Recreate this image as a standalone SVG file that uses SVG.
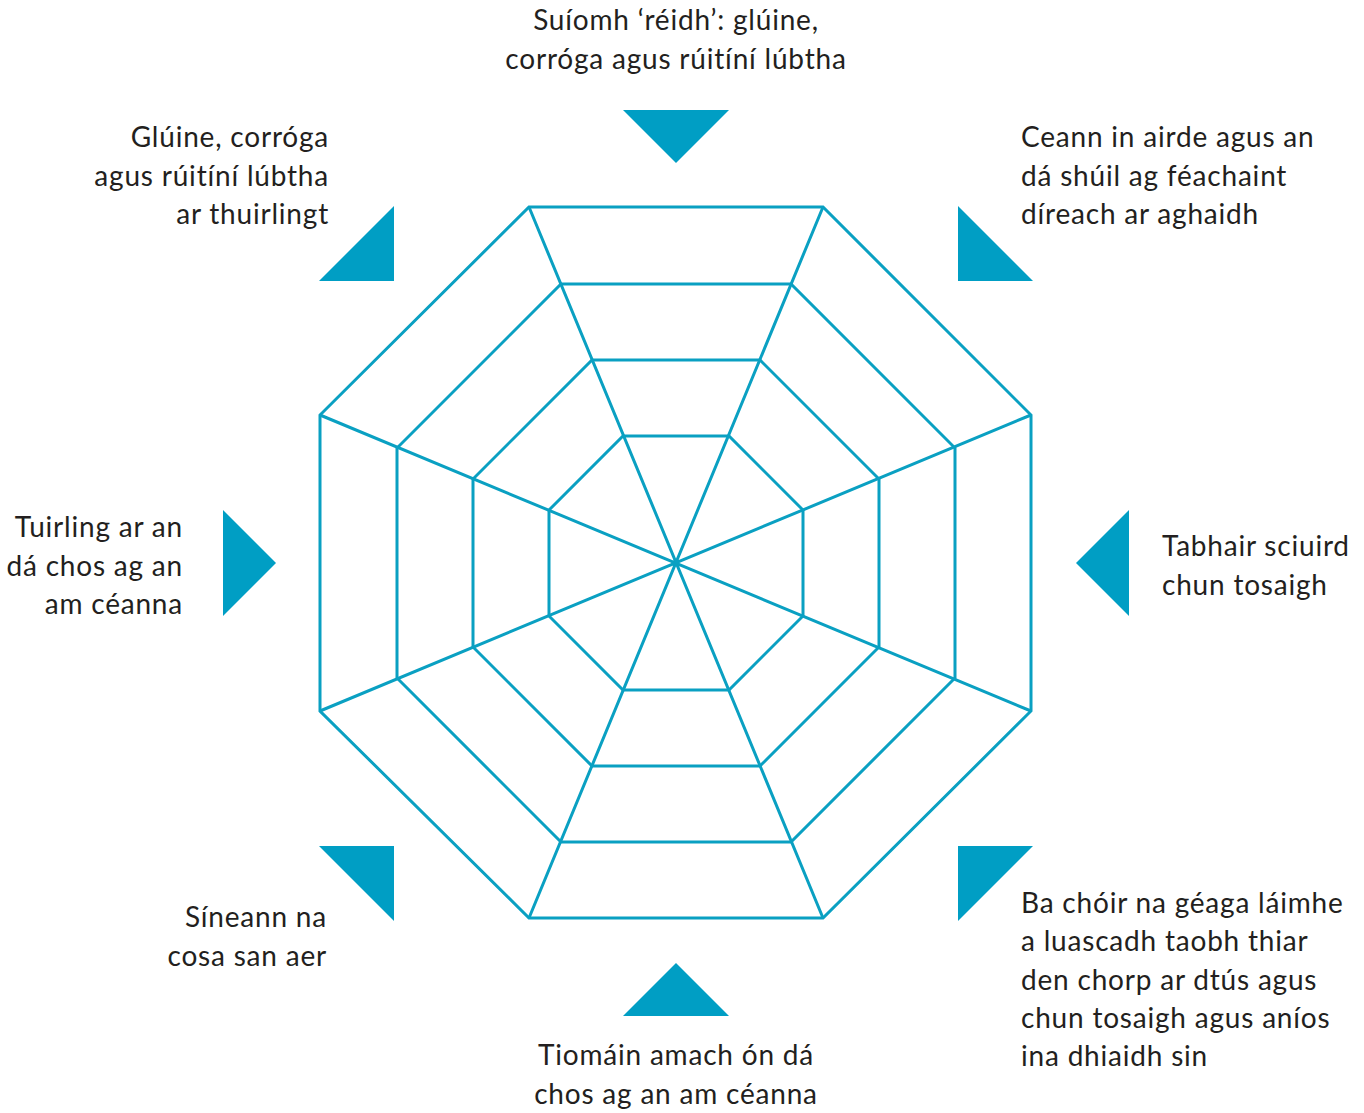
<svg xmlns="http://www.w3.org/2000/svg" width="1364" height="1113" viewBox="0 0 1364 1113">
  <style>
    .web { fill: none; stroke: #0aa0c2; stroke-width: 3; stroke-linejoin: miter; }
    .mark { fill: #009ec4; }
    .lbl { font-family: Lato, "Open Sans", sans-serif; font-size: 28px; letter-spacing: 0.8px; fill: #231f20; }
    .mid { text-anchor: middle; }
    .end { text-anchor: end; }
  </style>
  <rect width="1364" height="1113" fill="#ffffff"/>

  <!-- spider web: four concentric regular octagons and eight spokes -->
  <g id="web">
    <polygon class="web" points="529,207 823,207 1031,415 1031,711 823,918 529,918 320,711 320,415"/>
    <polygon class="web" points="561,284 791,284 955,448 955,678 791,842 561,842 397,678 397,448"/>
    <polygon class="web" points="592,360 760,360 879,479 879,647 760,766 592,766 473,647 473,479"/>
    <polygon class="web" points="623,436 729,436 803,510 803,616 729,690 623,690 549,616 549,510"/>
  </g>
  <g id="connectors">
    <path class="web" d="M529,207 L823,918 M823,207 L529,918 M1031,415 L320,711 M1031,711 L320,415"/>
  </g>

  <!-- pointers and captions -->
  <g id="node-top">
    <polygon class="mark" points="623,110 729,110 676,163"/>
    <text class="lbl mid" x="676" y="30">Suíomh ‘réidh’: glúine,</text>
    <text class="lbl mid" x="676" y="69">corróga agus rúitíní lúbtha</text>
  </g>
  <g id="node-top-right">
    <polygon class="mark" points="958,206 958,281 1033,281"/>
    <text class="lbl" x="1021" y="147">Ceann in airde agus an</text>
    <text class="lbl" x="1021" y="186">dá shúil ag féachaint</text>
    <text class="lbl" x="1021" y="224">díreach ar aghaidh</text>
  </g>
  <g id="node-right">
    <polygon class="mark" points="1129,510 1129,616 1076,563"/>
    <text class="lbl" x="1162" y="556">Tabhair sciuird</text>
    <text class="lbl" x="1162" y="595">chun tosaigh</text>
  </g>
  <g id="node-bottom-right">
    <polygon class="mark" points="958,846 1033,846 958,921"/>
    <text class="lbl" x="1021" y="913">Ba chóir na géaga láimhe</text>
    <text class="lbl" x="1021" y="951">a luascadh taobh thiar</text>
    <text class="lbl" x="1021" y="990">den chorp ar dtús agus</text>
    <text class="lbl" x="1021" y="1028">chun tosaigh agus aníos</text>
    <text class="lbl" x="1021" y="1066">ina dhiaidh sin</text>
  </g>
  <g id="node-bottom">
    <polygon class="mark" points="623,1016 729,1016 676,963"/>
    <text class="lbl mid" x="676" y="1065">Tiomáin amach ón dá</text>
    <text class="lbl mid" x="676" y="1104">chos ag an am céanna</text>
  </g>
  <g id="node-bottom-left">
    <polygon class="mark" points="319,846 394,846 394,921"/>
    <text class="lbl end" x="327" y="927">Síneann na</text>
    <text class="lbl end" x="327" y="966">cosa san aer</text>
  </g>
  <g id="node-left">
    <polygon class="mark" points="223,510 223,616 276,563"/>
    <text class="lbl end" x="183" y="537">Tuirling ar an</text>
    <text class="lbl end" x="183" y="576">dá chos ag an</text>
    <text class="lbl end" x="183" y="614">am céanna</text>
  </g>
  <g id="node-top-left">
    <polygon class="mark" points="394,206 394,281 319,281"/>
    <text class="lbl end" x="329" y="147">Glúine, corróga</text>
    <text class="lbl end" x="329" y="186">agus rúitíní lúbtha</text>
    <text class="lbl end" x="329" y="224">ar thuirlingt</text>
  </g>
</svg>
